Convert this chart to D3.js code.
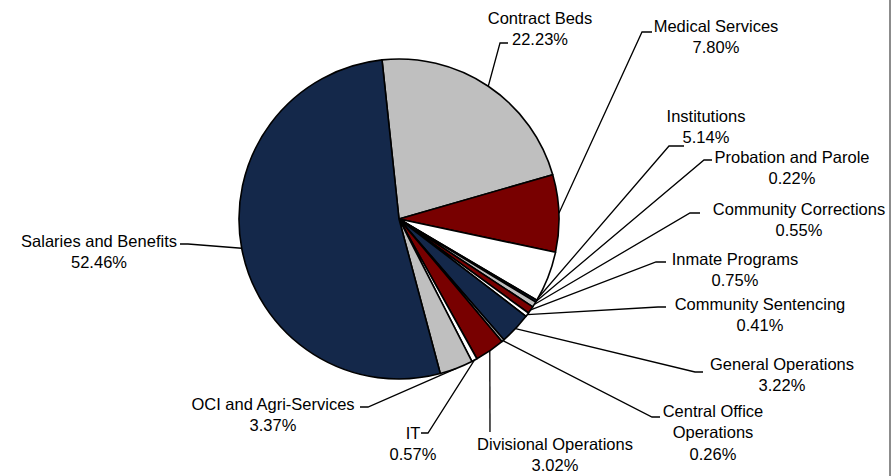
<!DOCTYPE html>
<html>
<head>
<meta charset="utf-8">
<script src="https://cdn.jsdelivr.net/npm/d3@7"></script>
<style>
  html, body { margin: 0; padding: 0; background: #fff; }
  svg { display: block; }
  .lbl { font-family: "Liberation Sans", Arial, sans-serif; font-size: 16.5px; fill: #000; }
</style>
</head>
<body>
<figure id="pie" style="margin:0"></figure>
<script>
// categories, clockwise from the top of the pie
const categories = [
  "Contract Beds", "Medical Services", "Institutions", "Probation and Parole",
  "Community Corrections", "Inmate Programs", "Community Sentencing",
  "General Operations", "Central Office Operations", "Divisional Operations",
  "IT", "OCI and Agri-Services", "Salaries and Benefits"
];
const shares = [22.23, 7.80, 5.14, 0.22, 0.55, 0.75, 0.41, 3.22, 0.26, 3.02, 0.57, 3.37, 52.46];
// how the label text is broken into lines
const labelLines = [
  ["Contract Beds"], ["Medical Services"], ["Institutions"], ["Probation and Parole"],
  ["Community Corrections"], ["Inmate Programs"], ["Community Sentencing"],
  ["General Operations"], ["Central Office", "Operations"], ["Divisional Operations"],
  ["IT"], ["OCI and Agri-Services"], ["Salaries and Benefits"]
];

const width = 894, height = 476;
const cx = 399, cy = 219, radius = 160;
const startDeg = -6.1;
const lineGap = 21.5;

const navy = "#14284a", gray = "#bfbfbf", red = "#780000", white = "#ffffff";
const fills = [gray, red, white, navy, gray, red, white, navy, gray, red, white, gray, navy];

// label layout: centre x, first line y, leader end on the label side, elbow, where on the slice (0..1)
const layout = [
  { x: 540, y: 18, end: [508, 43], elbow: [500, 43], t: 0.5 },
  { x: 716, y: 26, end: [652, 32], elbow: [642, 32], t: 0.5 },
  { x: 706, y: 116, end: [684, 146], elbow: [669, 146], t: 0.95 },
  { x: 792, y: 157, end: [712, 160], elbow: [704, 160], t: 0.5 },
  { x: 799, y: 209, end: [700, 213], elbow: [690, 213], t: 0.5 },
  { x: 735, y: 259, end: [666, 262], elbow: [656, 262], t: 0.5 },
  { x: 760, y: 304, end: [666, 307], elbow: [658, 307], t: 0.5 },
  { x: 782, y: 364, end: [703, 372], elbow: [695, 372], t: 0.5 },
  { x: 713, y: 411, end: [660, 417], elbow: [652, 417], t: 0.5 },
  { x: 555, y: 444, end: [490, 432], elbow: [490, 432], t: 0.5 },
  { x: 413, y: 433, end: [421, 433], elbow: [428, 433], t: 0.5 },
  { x: 273, y: 404, end: [360, 407], elbow: [368, 407], t: 0.5 },
  { x: 99, y: 241, end: [180, 244], elbow: [188, 244], t: 0.5 }
];

const data = categories.map((c, i) => ({ name: c, value: shares[i], i: i }));

const svg = d3.select("figure#pie")
  .append("svg")
  .attr("width", width)
  .attr("height", height);

const pie = d3.pie()
  .value(d => d.value)
  .sort(null)
  .startAngle(startDeg * Math.PI / 180)
  .endAngle((startDeg + 360) * Math.PI / 180);

const arc = d3.arc().innerRadius(0).outerRadius(radius);
const arcs = pie(data);

const g = svg.append("g").attr("transform", "translate(" + cx + "," + cy + ")");

g.selectAll("path.slice")
  .data(arcs)
  .enter()
  .append("path")
  .attr("class", "slice")
  .attr("d", arc)
  .attr("fill", d => fills[d.data.i])
  .attr("stroke", "#000")
  .attr("stroke-width", 1.6)
  .attr("stroke-linejoin", "round");

// leader lines
svg.selectAll("polyline.leader")
  .data(arcs)
  .enter()
  .append("polyline")
  .attr("class", "leader")
  .attr("fill", "none")
  .attr("stroke", "#000")
  .attr("stroke-width", 1.3)
  .attr("points", d => {
    const L = layout[d.data.i];
    const a = d.startAngle + (d.endAngle - d.startAngle) * L.t;
    const px = cx + radius * Math.sin(a);
    const py = cy - radius * Math.cos(a);
    return [[px, py], L.elbow, L.end].map(p => p.join(",")).join(" ");
  });

// labels
const labels = svg.selectAll("text.lbl")
  .data(data)
  .enter()
  .append("text")
  .attr("class", "lbl")
  .attr("text-anchor", "middle");

labels.each(function (d) {
  const L = layout[d.i];
  const lines = labelLines[d.i].concat([d.value.toFixed(2) + "%"]);
  d3.select(this).selectAll("tspan")
    .data(lines)
    .enter()
    .append("tspan")
    .attr("x", L.x)
    .attr("y", (s, k) => L.y + k * lineGap)
    .attr("dy", "0.35em")
    .text(s => s);
});

// frame edge on the right
svg.append("line")
  .attr("x1", 890).attr("x2", 890)
  .attr("y1", 0).attr("y2", height)
  .attr("stroke", "#8c8c8c")
  .attr("stroke-width", 2);
</script>
</body>
</html>
